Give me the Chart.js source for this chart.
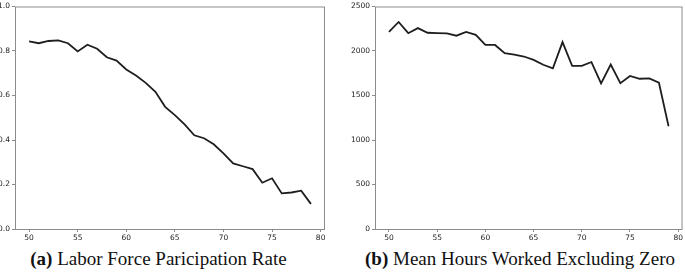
<!DOCTYPE html>
<html>
<head>
<meta charset="utf-8">
<script src="https://cdn.jsdelivr.net/npm/chart.js@4.4.1/dist/chart.umd.min.js"></script>
<style>
  body { margin: 0; background: #fff; width: 685px; height: 272px; overflow: hidden; position: relative; }
  .panel { position: absolute; top: 0; width: 340px; height: 245px; }
  .caption { position: absolute; top: 249px; line-height: 20px; text-align: center; font-family: "Liberation Serif", "Times New Roman", serif; font-size: 19px; color: #111; white-space: nowrap; }
</style>
</head>
<body>
<div class="panel" style="left:0"><canvas id="chartA"></canvas></div>
<div class="panel" style="left:340px;width:345px"><canvas id="chartB"></canvas></div>
<div class="caption" style="left:0;width:317px"><b>(a)</b> Labor Force Paricipation Rate</div>
<div class="caption" style="left:365px;width:305px"><b>(b)</b> Mean Hours Worked Excluding Zero</div>
<script>
// Edades (eje x)
const ages = [50, 51, 52, 53, 54, 55, 56, 57, 58, 59, 60, 61, 62, 63, 64,
              65, 66, 67, 68, 69, 70, 71, 72, 73, 74, 75, 76, 77, 78, 79];

// (a) tasa de participación
const participation = [0.843, 0.835, 0.845, 0.848, 0.835, 0.798, 0.828, 0.810, 0.772, 0.757, 0.717, 0.690, 0.657, 0.617, 0.549,
                       0.512, 0.470, 0.421, 0.408, 0.381, 0.340, 0.295, 0.282, 0.269, 0.208, 0.228, 0.160, 0.164, 0.172, 0.113];

// (b) horas medias trabajadas (sin ceros)
const hours = [2215, 2326, 2200, 2257, 2205, 2200, 2197, 2172, 2215, 2182, 2068, 2068, 1975, 1960, 1938,
               1900, 1845, 1806, 2100, 1832, 1832, 1876, 1636, 1848, 1638, 1720, 1688, 1692, 1644, 1155];

const xTicks = [50, 55, 60, 65, 70, 75, 80];
const yTicksA = [0, 0.2, 0.4, 0.6, 0.8, 1.0];
const yTicksB = [0, 500, 1000, 1500, 2000, 2500];

// Marco estilo matplotlib alrededor del área del gráfico
const boxPlugin = {
    id: 'box',
    afterDraw(chart) {
        const a = chart.chartArea;
        const ctx = chart.ctx;
        ctx.save();
        ctx.strokeStyle = '#8c8c8c';
        ctx.lineWidth = 1;
        ctx.strokeRect(a.left + 0.5, a.top + 0.5, a.right - a.left - 1, a.bottom - a.top);
        ctx.restore();
    }
};

function makeChart(id, values, yMax, yTicks, yLabel, leftW, rightPad) {
    const tickFont = { family: 'DejaVu Sans', size: 7.5 };
    return new Chart(document.getElementById(id), {
        type: 'line',
        data: {
            labels: ages,
            datasets: [{
                data: ages.map((a, i) => ({ x: a, y: values[i] })),
                borderColor: '#1e1e1e',
                borderWidth: 1.8,
                pointRadius: 0,
                tension: 0,
                fill: false
            }]
        },
        options: {
            responsive: true,
            maintainAspectRatio: false,
            animation: false,
            layout: { padding: { top: 3, right: rightPad, left: 0, bottom: 0 } },
            plugins: { legend: { display: false }, tooltip: { enabled: false } },
            scales: {
                x: {
                    type: 'linear',
                    min: 48.55,
                    max: 80.45,
                    afterBuildTicks: s => { s.ticks = xTicks.map(v => ({ value: v })); },
                    afterFit: s => { s.height = 16; },
                    grid: { drawOnChartArea: false, drawTicks: true, tickLength: 3, color: '#8c8c8c' },
                    border: { display: false },
                    ticks: { font: tickFont, color: '#222', padding: 2, maxRotation: 0 }
                },
                y: {
                    min: 0,
                    max: yMax,
                    afterBuildTicks: s => { s.ticks = yTicks.map(v => ({ value: v })); },
                    afterFit: s => { s.width = leftW; },
                    grid: { drawOnChartArea: false, drawTicks: true, tickLength: 3, color: '#8c8c8c' },
                    border: { display: false },
                    ticks: { font: tickFont, color: '#222', padding: 2, callback: yLabel }
                }
            }
        },
        plugins: [boxPlugin]
    });
}

makeChart('chartA', participation, 1.0, yTicksA, v => v.toFixed(1), 15, 15);
makeChart('chartB', hours, 2500, yTicksB, v => String(v), 35, 2);
</script>
</body>
</html>
